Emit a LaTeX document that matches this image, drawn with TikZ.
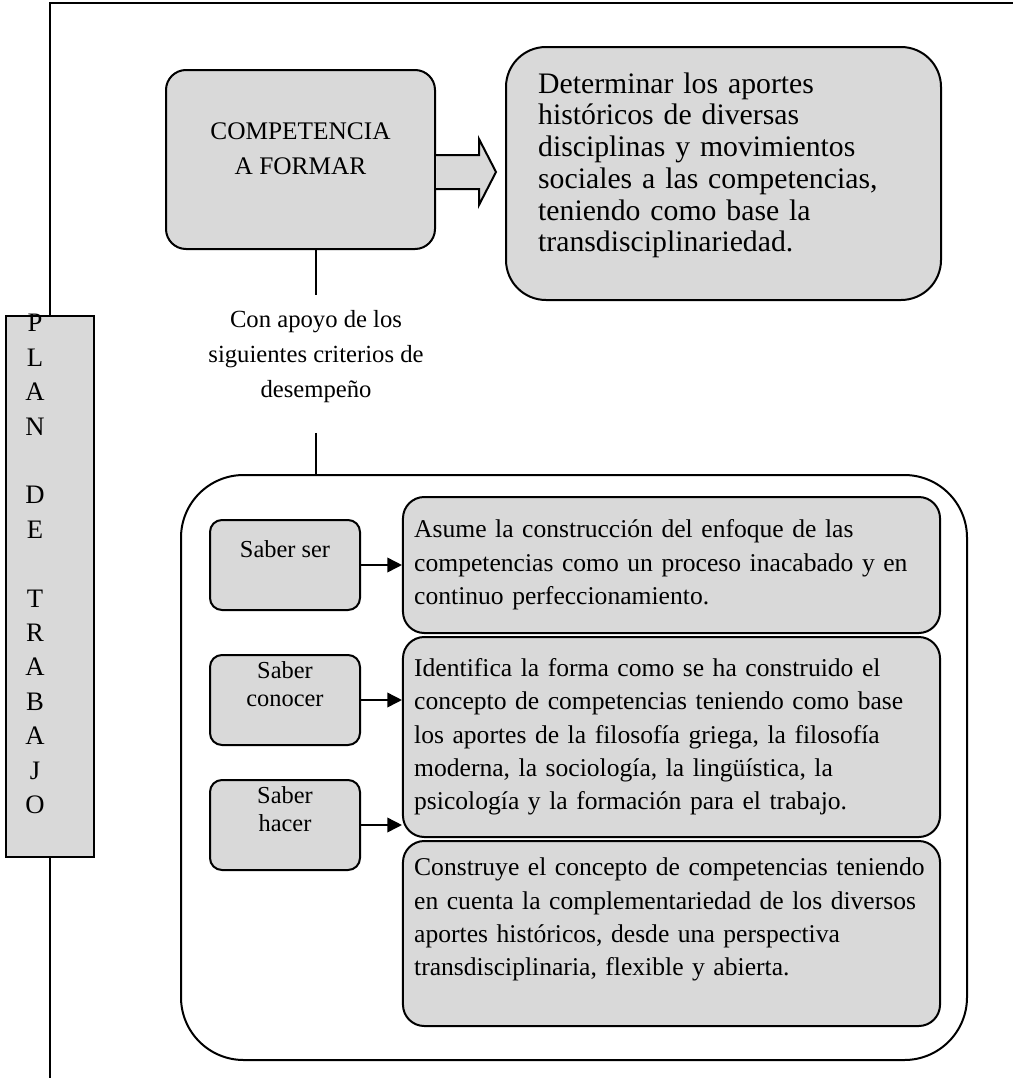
\documentclass[tikz,border=0pt]{standalone}
\usepackage{fontspec}
\setmainfont{Liberation Serif}
\usetikzlibrary{arrows.meta}
\usetikzlibrary{positioning}
\usetikzlibrary{calc}
\tikzset{
    caja/.style={draw=black, fill=black!15, line width=1.5pt},
    competencia/.style={caja, rounded corners=15pt, minimum width=201.75pt,
        minimum height=134.25pt, align=center, text depth=17pt,
        font=\fontsize{19}{26.25}\selectfont},
    objetivo/.style={caja, rounded corners=30pt, minimum width=326.25pt,
        minimum height=189.75pt, text width=278pt, inner xsep=24pt, align=left,
        text depth=136pt, font=\fontsize{22.3}{23.8}\selectfont},
    flechahueca/.style={draw=black, fill=black!15, line width=1.5pt, line join=miter},
    apoyotexto/.style={align=center, inner ysep=12pt, font=\fontsize{18.5}{26.25}\selectfont},
    linea/.style={draw=black, line width=1.2pt},
    marco/.style={draw=black, line width=1.5pt, rounded corners=47pt,
        minimum width=589.5pt, minimum height=438.75pt},
    planbox/.style={caja, minimum width=66pt, minimum height=405.75pt},
    letras/.style={align=center, inner sep=0pt, font=\fontsize{20}{25.8}\selectfont},
    saber/.style={caja, rounded corners=9pt, minimum width=112.5pt, minimum height=67.5pt,
        align=center, inner ysep=2pt, text depth=24pt, font=\fontsize{18.3}{21}\selectfont},
    criterio/.style={caja, rounded corners=16pt, minimum width=402.75pt, text width=386pt,
        inner xsep=8.4pt, align=left, font=\fontsize{19.2}{25}\selectfont},
    flecha/.style={draw=black, line width=1.2pt, -{Triangle[length=11pt,width=11pt]}},
}
\begin{document}
\begin{tikzpicture}[x=0.75pt, y=-0.75pt]
    \useasboundingbox (0,0) rectangle (1013,1078);
    % hoja
    \draw[line width=1.5pt] (50,1078) -- (50,3) -- (1013,3);
    \node[planbox] (plan) at (49.5,586.5) {};
    \node[letras] (letras) at ($(plan.center)+(-14.5,-22.5)$)
        {P\\L\\A\\N\\\mbox{}\\D\\E\\\mbox{}\\T\\R\\A\\B\\A\\J\\O};
    % competencia
    \node[competencia] (comp) at (300.5,159.5) {COMPETENCIA\\A FORMAR};
    \node[objetivo] (obj) at (723.5,173.5) {Determinar los aportes\\
        históricos de diversas\\disciplinas y movimientos\\
        sociales a las competencias,\\teniendo como base la\\
        transdisciplinariedad.};
    \draw[flechahueca] ($(comp.east)+(0,-4.5)$) -- ($(comp.east)+(43,-4.5)$)
        -- ($(comp.east)+(43,-20.5)$) -- ($(comp.east)+(60,12.5)$)
        -- ($(comp.east)+(43,45.5)$) -- ($(comp.east)+(43,29.5)$)
        -- ($(comp.east)+(0,29.5)$);
    \node[apoyotexto] (apoyo) at (316,357)
        {Con apoyo de los\\siguientes criterios de\\desempeño};
    \draw[linea] (comp.south -| apoyo.north) -- (apoyo.north);
    % criterios de desempeno
    \node[marco] (marco) at (574,767.5) {};
    \draw[linea, shorten <=10pt] (apoyo.south) -- (apoyo.south |- marco.north);
    \node[saber] (ser) at (285,565) {Saber ser};
    \node[saber] (conocer) at (285,700) {Saber\\conocer};
    \node[saber] (hacer) at (285,825) {Saber\\hacer};
    \node[criterio, minimum height=102pt] (asume) at (671.5,565)
        {Asume la construcción del enfoque de las\\
        competencias como un proceso inacabado y en\\
        continuo perfeccionamiento.};
    \node[criterio, minimum height=150pt, below=1.5pt of asume] (identifica)
        {Identifica la forma como se ha construido el\\
        concepto de competencias teniendo como base\\
        los aportes de la filosofía griega, la filosofía\\
        moderna, la sociología, la lingüística, la\\
        psicología y la formación para el trabajo.};
    \node[criterio, minimum height=138.75pt, text depth=100pt, below=1.5pt of identifica] (construye)
        {Construye el concepto de competencias teniendo\\
        en cuenta la complementariedad de los diversos\\
        aportes históricos, desde una perspectiva\\
        transdisciplinaria, flexible y abierta.};
    \draw[flecha] (ser.east) -- (ser.east -| asume.west);
    \draw[flecha] (conocer.east) -- (conocer.east -| identifica.west);
    \draw[flecha] (hacer.east) -- (hacer.east -| construye.west);
\end{tikzpicture}
\end{document}
